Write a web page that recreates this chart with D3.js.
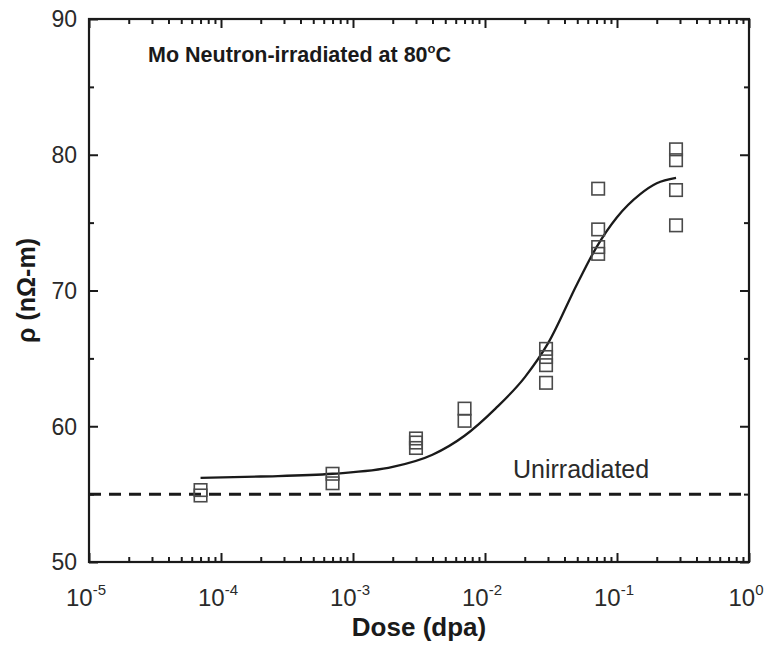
<!DOCTYPE html>
<html><head><meta charset="utf-8">
<script src="https://cdn.jsdelivr.net/npm/d3@7"></script>
<style>body{margin:0;background:#fff}svg{display:block}</style>
</head><body>
<svg id="c" width="773" height="649"></svg>
<script>
// measured points
const doses = [7e-5, 7e-5, 7e-4, 7e-4, 3e-3, 3e-3, 3e-3, 7e-3, 7e-3, 0.029, 0.029, 0.029, 0.029, 0.072, 0.072, 0.072, 0.072, 0.28, 0.28, 0.28, 0.28];
const rho   = [55.3, 54.9, 56.5, 55.8, 59.1, 58.8, 58.4, 61.3, 60.4, 65.7, 65.1, 64.5, 63.2, 77.5, 74.5, 73.2, 72.7, 80.4, 79.6, 77.4, 74.8];
// fitted curve
const fitDose = [7e-5, 2e-4, 7e-4, 2e-3, 4e-3, 7e-3, 0.012, 0.02, 0.03, 0.05, 0.07, 0.1, 0.15, 0.2, 0.28];
const fitRho  = [56.2, 56.3, 56.5, 57.0, 57.9, 59.3, 61.3, 63.6, 66.1, 70.5, 73.2, 75.4, 77.1, 77.9, 78.3];
const unirradiated = 55;
const yTicks = [50, 60, 70, 80, 90];
const yMinor = [55, 65, 75, 85];
const xTickExps = [-5, -4, -3, -2, -1, 0];

const svg = d3.select("#c");
const L = 89, R = 749, T = 19, B = 562;
const x = d3.scaleLog().domain([1e-5, 1]).range([L, R]);
const y = d3.scaleLinear().domain([50, 90]).range([B, T]);
const ink = "#1a1a1a";
const txt = "#2a2a2a";
const font = "Liberation Sans, Arial, Helvetica, sans-serif";

const xMinor = [];
for (let e = -5; e < 0; e++) for (let m = 2; m <= 9; m++) xMinor.push(m * Math.pow(10, e));
const xMajor = xTickExps.map(e => Math.pow(10, e));

const g = svg.append("g");
function ax(gen, tx, ty) {
  const a = g.append("g").attr("transform", `translate(${tx},${ty})`).call(gen);
  a.selectAll("text").remove();
  a.select(".domain").remove();
  a.selectAll("line").attr("stroke", ink).attr("stroke-width", 2);
  return a;
}
ax(d3.axisBottom(x).tickValues(xMajor).tickSize(-9).tickFormat(""), 0, B);
ax(d3.axisBottom(x).tickValues(xMinor).tickSize(-5).tickFormat(""), 0, B);
ax(d3.axisTop(x).tickValues(xMajor).tickSize(-9).tickFormat(""), 0, T);
ax(d3.axisTop(x).tickValues(xMinor).tickSize(-5).tickFormat(""), 0, T);
ax(d3.axisLeft(y).tickValues(yTicks).tickSize(-9).tickFormat(""), L, 0);
ax(d3.axisLeft(y).tickValues(yMinor).tickSize(-5).tickFormat(""), L, 0);
ax(d3.axisRight(y).tickValues(yTicks).tickSize(-9).tickFormat(""), R, 0);
ax(d3.axisRight(y).tickValues(yMinor).tickSize(-5).tickFormat(""), R, 0);

g.append("rect").attr("x", L).attr("y", T).attr("width", R - L).attr("height", B - T)
  .attr("fill", "none").attr("stroke", ink).attr("stroke-width", 2.2);

// y tick labels
g.selectAll(".yl").data(yTicks).join("text")
  .attr("x", L - 12).attr("y", d => y(d)).attr("dy", "0.36em")
  .attr("text-anchor", "end").attr("font-family", font).attr("font-size", 23)
  .attr("fill", txt).text(d => d);

// x tick labels 10^e
const xl = g.selectAll(".xl").data(xTickExps).join("text")
  .attr("x", d => x(Math.pow(10, d)) - 3).attr("y", 606)
  .attr("text-anchor", "middle").attr("font-family", font).attr("font-size", 24)
  .attr("fill", txt);
xl.append("tspan").text("10");
xl.append("tspan").attr("dy", -11).attr("font-size", 15).text(d => d);

// axis titles
g.append("text").attr("x", (L + R) / 2).attr("y", 636).attr("text-anchor", "middle")
  .attr("font-family", font).attr("font-weight", "bold").attr("font-size", 26)
  .attr("fill", ink).text("Dose (dpa)");
g.append("text").attr("transform", `translate(35,${y(70)}) rotate(-90)`)
  .attr("text-anchor", "middle").attr("font-family", font).attr("font-weight", "bold")
  .attr("font-size", 25).attr("fill", ink).text("ρ (nΩ-m)");

// title
const tt = g.append("text").attr("x", 148).attr("y", 62).attr("font-family", font)
  .attr("font-weight", "bold").attr("font-size", 21.5).attr("fill", ink);
tt.append("tspan").text("Mo Neutron-irradiated at 80");
tt.append("tspan").attr("dy", -9).attr("font-size", 13).text("o");
tt.append("tspan").attr("dy", 9).text("C");

// unirradiated dashed line
g.append("line").attr("x1", L).attr("x2", R).attr("y1", y(unirradiated)).attr("y2", y(unirradiated))
  .attr("stroke", ink).attr("stroke-width", 3).attr("stroke-dasharray", "12,8");
g.append("text").attr("x", 513).attr("y", 478).attr("font-family", font).attr("font-size", 25)
  .attr("fill", txt).text("Unirradiated");

// fit curve
const line = d3.line().x((d, i) => x(fitDose[i])).y((d, i) => y(fitRho[i])).curve(d3.curveMonotoneX);
g.append("path").attr("d", line(fitDose)).attr("fill", "none").attr("stroke", ink).attr("stroke-width", 2.3);

// markers
const s = 12.5;
g.selectAll(".pt").data(doses).join("rect")
  .attr("x", (d, i) => x(d) - s / 2).attr("y", (d, i) => y(rho[i]) - s / 2)
  .attr("width", s).attr("height", s).attr("fill", "none")
  .attr("stroke", "#4a4a4a").attr("stroke-width", 1.6);
</script>
</body></html>
